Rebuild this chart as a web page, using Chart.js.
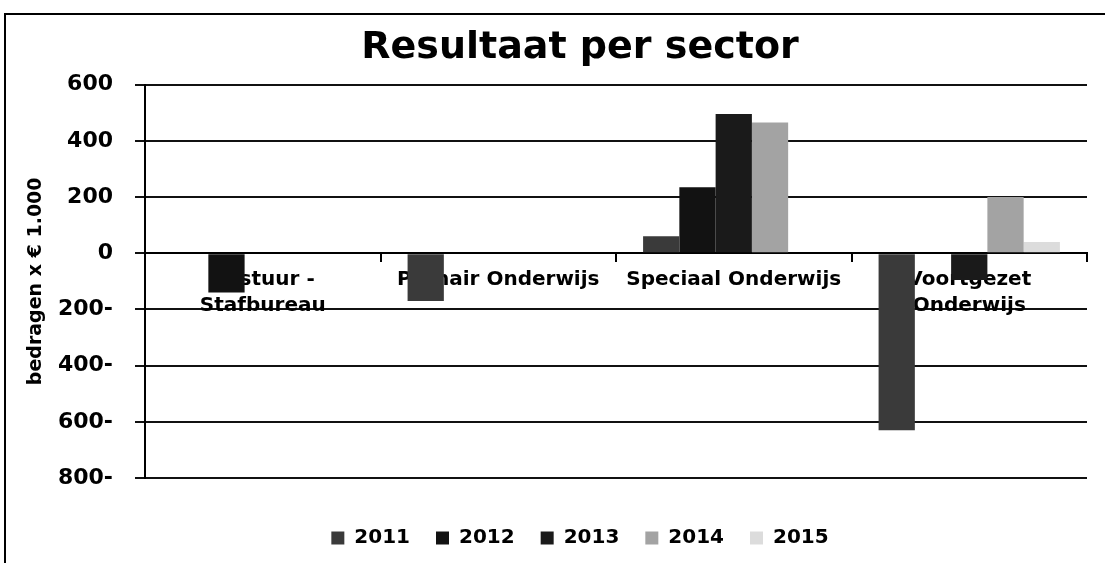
<!DOCTYPE html>
<html>
<head>
<meta charset="utf-8">
<script src="https://cdn.jsdelivr.net/npm/chart.js@4"></script>
<style>
html, body { margin: 0; padding: 0; background: #fff; overflow: hidden; }
#kader { position: absolute; left: 4px; top: 13px; width: 1200px; height: 600px; border-top: 2px solid #000; border-left: 2px solid #000; }
#wrap { position: absolute; left: 0; top: 0; width: 1150px; height: 563px; }
</style>
</head>
<body>
<div id="kader"></div>
<div id="wrap"><canvas id="grafiek" width="1150" height="563"></canvas></div>
<script>
// gegevens (bedragen x € 1.000)
const sectoren = [['Bestuur -', 'Stafbureau'], 'Primair Onderwijs', 'Speciaal Onderwijs', ['Voortgezet', 'Onderwijs']];
const jaren = ['2011', '2012', '2013', '2014', '2015'];
const r2011 = [null, -170, 60, -630];
const r2012 = [-140, null, 235, null];
const r2013 = [null, null, 495, -95];
const r2014 = [null, null, 465, 200];
const r2015 = [null, null, null, 40];
const kleuren = ['#3a3a3a', '#121212', '#1a1a1a', '#a3a3a3', '#dcdcdc'];
const yMin = -800;
const yMax = 600;
const yStap = 200;

const reeksen = [r2011, r2012, r2013, r2014, r2015];
const lettertype = 'DejaVu Sans';

// negatieve waarden met het minteken achteraan, zoals in het origineel
function tickLabel(v) {
    return v < 0 ? (-v) + '-' : String(v);
}

const ctx = document.getElementById('grafiek').getContext('2d');
new Chart(ctx, {
    type: 'bar',
    data: {
        labels: sectoren,
        datasets: jaren.map((jaar, i) => ({
            label: jaar,
            data: reeksen[i],
            backgroundColor: kleuren[i],
            borderWidth: 0,
            categoryPercentage: 0.77,
            barPercentage: 1,
            yAxisID: 'y'
        }))
    },
    options: {
        responsive: false,
        animation: false,
        layout: { padding: { top: 14, left: 10, right: 0, bottom: 5 } },
        plugins: {
            title: {
                display: true,
                text: 'Resultaat per sector',
                color: '#000',
                font: { family: lettertype, size: 38, weight: 'bold' },
                padding: { top: 11, bottom: 14 }
            },
            legend: {
                position: 'bottom',
                labels: {
                    boxWidth: 13,
                    boxHeight: 13,
                    padding: 26,
                    color: '#000',
                    font: { family: lettertype, size: 20, weight: 'bold' }
                }
            },
            tooltip: { enabled: false }
        },
        scales: {
            x: {
                position: { y: 0 },
                grid: { drawOnChartArea: false, drawTicks: true, tickLength: 8, color: '#000', lineWidth: 2, offset: true },
                border: { color: '#000', width: 2 },
                ticks: {
                    color: '#000',
                    padding: 6,
                    maxRotation: 0,
                    autoSkip: false,
                    font: { family: lettertype, size: 20, weight: 'bold', lineHeight: 1.3 }
                }
            },
            // lege ruimte tussen het plotvlak en de legenda
            x2: {
                type: 'linear',
                position: 'bottom',
                display: true,
                grid: { display: false },
                border: { display: false },
                ticks: { display: false },
                afterFit: (s) => { s.height = 24; }
            },
            y: {
                min: yMin,
                max: yMax,
                ticks: {
                    stepSize: yStap,
                    padding: 22,
                    color: '#000',
                    callback: tickLabel,
                    font: { family: lettertype, size: 22, weight: 'bold' }
                },
                grid: { color: '#111', lineWidth: 2, tickLength: 10 },
                border: { color: '#000', width: 2 },
                title: {
                    display: true,
                    text: 'bedragen x € 1.000',
                    color: '#000',
                    font: { family: lettertype, size: 19, weight: 'bold' },
                    padding: { top: 15, bottom: 0 }
                },
                afterFit: (s) => { s.width = 135; }
            },
            // lege as rechts, zodat titel en legenda even ver uit het midden staan als in het origineel
            y2: {
                position: 'right',
                display: true,
                grid: { display: false },
                border: { display: false },
                ticks: { display: false },
                afterFit: (s) => { s.width = 1150 - 1087; }
            }
        }
    }
});
</script>
</body>
</html>
